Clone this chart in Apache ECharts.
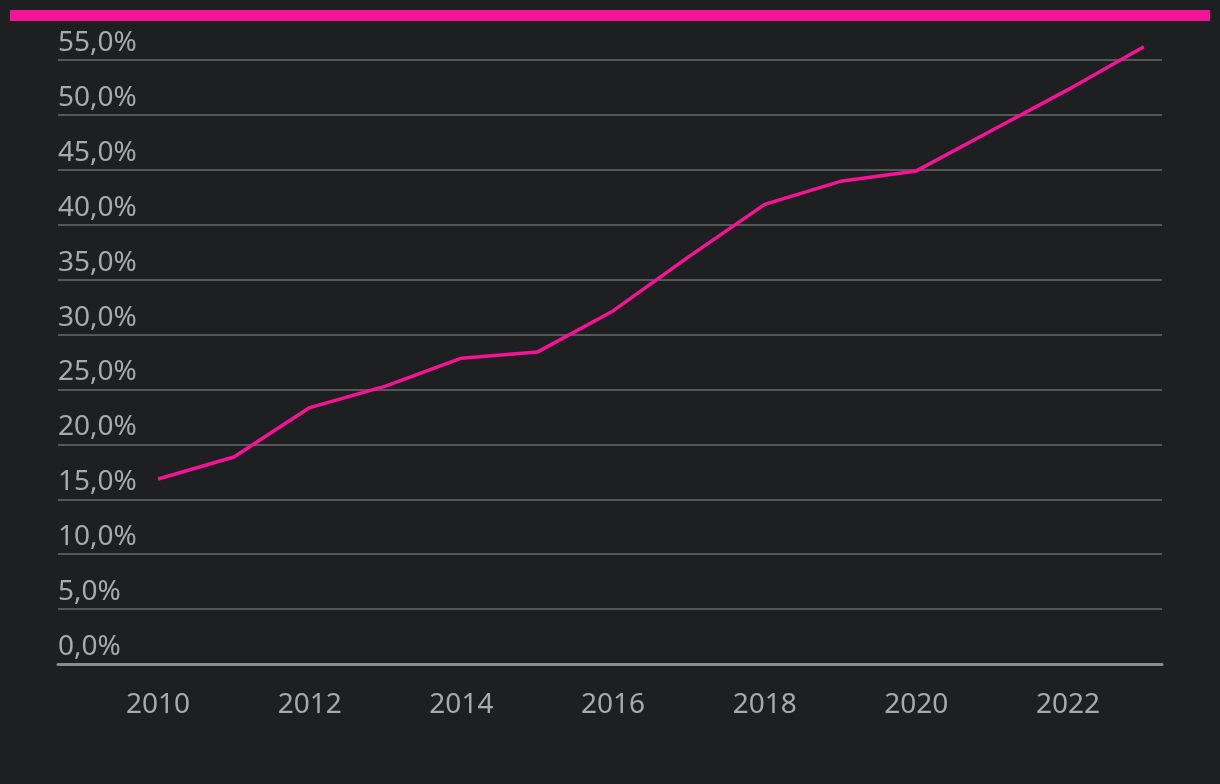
<!DOCTYPE html>
<html><head><meta charset="utf-8">
<script src="https://cdn.jsdelivr.net/npm/echarts@6/dist/echarts.min.js"></script>
<style>html,body{margin:0;padding:0;background:#1e1f21}#c{width:1220px;height:784px}</style>
</head><body><div id="c"></div>
<script>
const years = [2010,2011,2012,2013,2014,2015,2016,2017,2018,2019,2020,2021,2022,2023];
const shares = [16.85,18.85,23.35,25.3,27.85,28.4,32.15,37.1,41.85,43.95,44.9,48.6,52.3,56.2];
const xTicks = [2010,2012,2014,2016,2018,2020,2022];
const yMin = 0, yMax = 55, yStep = 5;

const chart = echarts.init(document.getElementById('c'));
chart.setOption({
  backgroundColor:'#1e1f21',
  animation:false,
  graphic:[{type:'rect',shape:{x:10,y:10,width:1200,height:11},style:{fill:'#f51496'}}],
  grid:{left:58,right:58,top:60,bottom:120},
  xAxis:{type:'value',min:2008.68,max:2023.24,
    axisLine:{show:true,lineStyle:{color:'#8c8c8c',width:3}},
    axisTick:{show:false},
    splitLine:{show:false},
    axisLabel:{customValues:xTicks,color:'#a9a9a9',fontSize:28,fontFamily:'Noto Sans',margin:27,formatter:v=>String(v)}
  },
  yAxis:{type:'value',min:yMin,max:yMax,interval:yStep,
    axisLine:{show:false},axisTick:{show:false},
    splitLine:{lineStyle:{color:'#575757',width:2}},
    axisLabel:{inside:true,align:'left',verticalAlign:'bottom',margin:0,padding:[0,0,3,0],
      color:'#a9a9a9',fontSize:28,fontFamily:'Noto Sans',
      formatter:v=>v.toFixed(1).replace('.',',')+'%'}
  },
  series:[{type:'line',data:years.map((y,i)=>[y,shares[i]]),clip:false,
    showSymbol:false,lineStyle:{color:'#f51496',width:3.5}}]
});
</script></body></html>
